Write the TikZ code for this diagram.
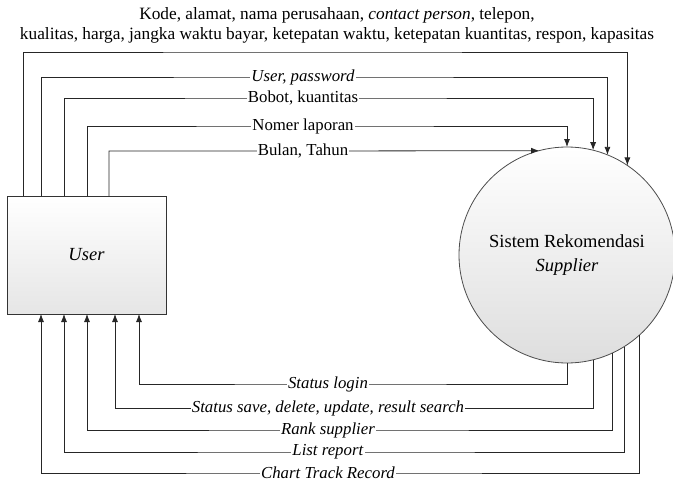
\documentclass[tikz,border=0pt]{standalone}
\usepackage{fontspec}
\setmainfont{Liberation Serif}
\usetikzlibrary{arrows.meta,calc}
\begin{document}
\begin{tikzpicture}[x=1pt,y=-1pt,
  flow/.style={draw=black!85,line width=0.8pt,-{Latex[length=8pt,width=6pt]}},
  lbl/.style={fill=white,inner sep=1.2pt,font=\fontsize{16.8}{19}\selectfont},
  title/.style={align=center,inner sep=0pt,font=\fontsize{17.3}{20.5}\selectfont},
  entity/.style={draw=black!80,line width=0.8pt,minimum width=159pt,minimum height=118pt,
    inner sep=0pt,outer sep=0pt,top color=white,bottom color=black!10,
    font=\fontsize{18.5}{24}\selectfont},
  process/.style={circle,draw=black!70,line width=0.8pt,minimum size=216pt,
    inner sep=0pt,outer sep=0pt,top color=white,bottom color=black!13,align=center,
    font=\fontsize{18.5}{24}\selectfont}
]
\useasboundingbox (0,0) rectangle (673,482);

% external entity and the process
\node[entity] (u) at (86.5,255) {\textit{User}};
\node[process] (s) at (567,255) {Sistem Rekomendasi\\\textit{Supplier}};

% data written by the user into the system
\node[title] (t) at (337,25.5)
  {Kode, alamat, nama perusahaan, \textit{contact person}, telepon,\\
   kualitas, harga, jangka waktu bayar, ketepatan waktu, ketepatan kuantitas, respon, kapasitas};
\draw[flow] ([xshift=16pt]u.north west) |- (300,52) -| (s.56.25);
\draw[flow] ([xshift=34pt]u.north west) |- (303,77) node[lbl]{\textit{User, password}} -| (s.68.26);
\draw[flow] ([xshift=57pt]u.north west) |- (303,98) node[lbl]{Bobot, kuantitas} -| (s.76.07);
\draw[flow] ([xshift=80pt]u.north west) |- (303,126) node[lbl]{Nomer laporan} -| (s.north);
\draw[flow] ([xshift=102pt]u.north west) |- (303,151) node[lbl]{Bulan, Tahun} -- (s.105.64);

% information returned to the user
\draw[flow] (s.south) |- (328,384) node[lbl]{\textit{Status login}} -| ([xshift=132pt]u.south west);
\draw[flow] (s.-76.62) |- (328,408) node[lbl]{\textit{Status save, delete, update, result search}} -| ([xshift=108pt]u.south west);
\draw[flow] (s.-65.38) |- (328,430) node[lbl]{\textit{Rank supplier}} -| ([xshift=80pt]u.south west);
\draw[flow] (s.-58.14) |- (328,452) node[lbl]{\textit{List report}} -| ([xshift=57pt]u.south west);
\draw[flow] (s.-48.9) |- (328,473) node[lbl]{\textit{Chart Track Record}} -| ([xshift=34pt]u.south west);
\end{tikzpicture}
\end{document}
